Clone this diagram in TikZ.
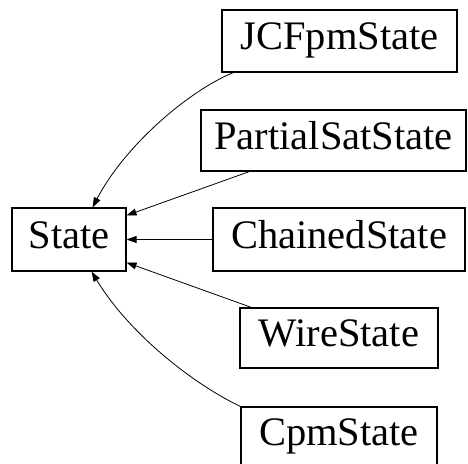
\documentclass[tikz,border=0pt]{standalone}
\usepackage{fontspec}
\setmainfont{Liberation Serif}
\usetikzlibrary{arrows.meta}
\begin{document}
\begin{tikzpicture}[x=1pt,y=-1pt,
  cls/.style={draw, line width=1.1pt, inner sep=0pt, anchor=center,
    font=\fontsize{40.5}{48}\selectfont, text height=27pt, text depth=10pt},
  inh/.style={draw, line width=0.8pt, -{Triangle[length=10pt,width=7pt]}}]
\useasboundingbox (0,0) rectangle (468,463);
\node[cls, minimum width=114pt, minimum height=63pt] (s) at (69,239.5) {State};
\node[cls, minimum width=235pt, minimum height=62pt] (j) at (339.5,41) {JCFpmState};
\node[cls, minimum width=265pt, minimum height=61pt] (p) at (333.5,140.5) {PartialSatState};
\node[cls, minimum width=252pt, minimum height=63pt] (c) at (339,239.5) {ChainedState};
\node[cls, minimum width=198pt, minimum height=60pt] (w) at (339,338) {WireState};
\node[cls, minimum width=196pt, minimum height=60pt] (cp) at (339,437) {CpmState};
\draw[inh] ([xshift=12pt]j.south west) .. controls (190,90) and (125,145) .. ([xshift=-34pt]s.north east);
\draw[inh] ([xshift=49pt]p.south west) -- ([yshift=-8pt]s.north east);
\draw[inh] (c.west) -- (s.east);
\draw[inh] ([xshift=12pt]w.north west) -- ([yshift=9pt]s.south east);
\draw[inh] (cp.north west) .. controls (195,385) and (130,335) .. ([xshift=-35pt]s.south east);
\end{tikzpicture}
\end{document}
